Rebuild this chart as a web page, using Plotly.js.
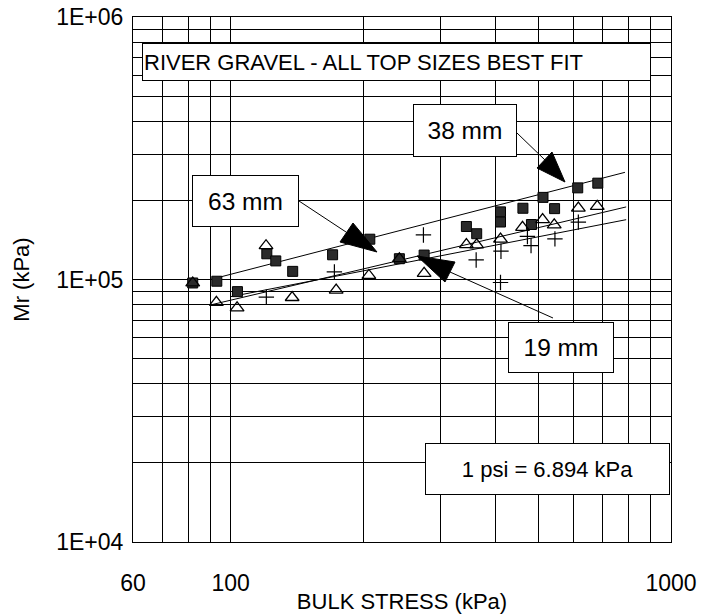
<!DOCTYPE html>
<html><head><meta charset="utf-8">
<script src="https://cdn.plot.ly/plotly-3.0.1.min.js"></script>
<style>html,body{margin:0;padding:0;background:#fff;}#chart{width:702px;height:614px;}</style>
</head><body><div id="chart"></div>
<script>
// ---- data ----
const sq_x = [82,93,103.6,120.8,126.6,138.3,170.4,207,241.6,275,343,362,410,410,461,482,512,544,614,682];
const sq_y = [97000,98500,89900,125300,117700,107400,124200,142400,120000,123900,159200,149400,181000,165600,186800,162000,205500,186200,223400,232800];
const tri_x = [82,92.8,103.4,120.3,137.9,173.6,206,241.6,275,343,362,410,460,511,543,616,680];
const tri_y = [97000,81800,78000,134500,85400,91100,103600,120000,105600,135800,135500,142600,157900,169200,161600,187100,190000];
const plus_x = [120.5,172,274,361,411,410,472,481,545,616];
const plus_y = [85700,106900,147800,118700,128200,97400,145900,134600,142800,165400];
const fit38_x = [90,786], fit38_y = [100000,256000];
const fit63_x = [90,791], fit63_y = [80000,189000];
const fit19_x = [100,791], fit19_y = [86000,169000];
const xMajor = [60,100,1000], xMajorText = ['60','100','1000'];
const xMinor = [70,80,90,200,300,400,500,600,700,800,900];
const yMajor = [1e4,1e5,1e6], yMajorText = ['1E+04','1E+05','1E+06'];
const yMinor = [2e4,3e4,4e4,5e4,6e4,7e4,8e4,9e4,2e5,3e5,4e5,5e5,6e5,7e5,8e5,9e5];

// ---- layout helpers ----
const W=702,H=614,L=133,R=31,T=17,B=72;
const PW=W-L-R, PH=H-T-B;
const px=x=>(x-L)/PW, py=y=>(H-B-y)/PH;
const FONT='Liberation Sans, Arial, sans-serif';

const lineStyle={color:'#000',width:1};
const traces=[
 {x:fit38_x,y:fit38_y,mode:'lines',line:lineStyle,name:'38 mm fit',showlegend:false,hoverinfo:'skip'},
 {x:fit63_x,y:fit63_y,mode:'lines',line:lineStyle,name:'63 mm fit',showlegend:false,hoverinfo:'skip'},
 {x:fit19_x,y:fit19_y,mode:'lines',line:lineStyle,name:'19 mm fit',showlegend:false,hoverinfo:'skip'},
 {x:sq_x,y:sq_y,mode:'markers',name:'38 mm',marker:{symbol:'square',size:10,color:'#2a2a2a',line:{color:'#000',width:1}}},
 {x:plus_x,y:plus_y,mode:'markers',name:'19 mm',marker:{symbol:'cross-thin-open',size:11,color:'#000',line:{color:'#000',width:1.2}}},
 {x:tri_x,y:tri_y,mode:'markers',name:'63 mm',marker:{symbol:'triangle-up-open',size:12,color:'#000',line:{color:'#000',width:1.3}}}
];

function box(text,cx,cy,w,h,size,align){
  return {xref:'paper',yref:'paper',x:px(cx),y:py(cy),xanchor:'center',yanchor:'middle',
    text:text,showarrow:false,width:w,height:h,align:align||'center',valign:'middle',
    bgcolor:'#fff',bordercolor:'#000',borderwidth:1,borderpad:1,
    font:{family:FONT,size:size,color:'#000'}};
}
const annotations=[
  box('RIVER GRAVEL - ALL TOP SIZES BEST FIT',396,62,505,34,22,'left'),
  box('38 mm',465,130,100,49,24.5),
  box('63 mm',245,201,103,48,24.5),
  box('19 mm',561,347,102,47,24.5),
  box('1 psi = 6.894 kPa',547,469,241,48,22)
];
function seg(x0,y0,x1,y1){return {type:'line',xref:'paper',yref:'paper',x0:px(x0),y0:py(y0),x1:px(x1),y1:py(y1),line:{color:'#000',width:1}};}
function tri(a,b,c){return {type:'path',xref:'paper',yref:'paper',
  path:`M${px(a[0])},${py(a[1])} L${px(b[0])},${py(b[1])} L${px(c[0])},${py(c[1])} Z`,
  fillcolor:'#000',line:{color:'#000',width:1}};}
const shapes=[
  seg(517,133,545,160), tri([565,182],[537,168],[552,152]),
  seg(299,201,346,232), tri([377,252],[340,242],[353,223]),
  seg(553,318,450,272), tri([417,256],[455,262],[445,282])
];

const layout={
  width:W,height:H,margin:{l:L,r:R,t:T,b:B},
  paper_bgcolor:'#fff',plot_bgcolor:'#fff',showlegend:false,
  font:{family:FONT,color:'#000'},
  xaxis:{type:'log',range:[Math.log10(60),3],tickvals:xMajor,ticktext:xMajorText,
    showgrid:true,gridcolor:'#000',gridwidth:1,showline:true,linecolor:'#000',linewidth:1,mirror:true,
    ticks:'',ticklabelstandoff:20,tickfont:{family:FONT,size:23,color:'#000'},zeroline:false,
    minor:{tickvals:xMinor,showgrid:true,gridcolor:'#000',gridwidth:1,ticks:''},
    title:{text:'BULK STRESS (kPa)',font:{family:FONT,size:22,color:'#000'},standoff:4}},
  yaxis:{type:'log',range:[4,6],tickvals:yMajor,ticktext:yMajorText,
    showgrid:true,gridcolor:'#000',gridwidth:1,showline:true,linecolor:'#000',linewidth:1,mirror:true,
    ticks:'',ticklabelstandoff:4,tickfont:{family:FONT,size:23,color:'#000'},zeroline:false,
    minor:{tickvals:yMinor,showgrid:true,gridcolor:'#000',gridwidth:1,ticks:''},
    title:{text:'Mr (kPa)',font:{family:FONT,size:22,color:'#000'},standoff:20}},
  annotations:annotations,shapes:shapes
};
Plotly.newPlot('chart',traces,layout,{staticPlot:true,displayModeBar:false});
</script></body></html>
